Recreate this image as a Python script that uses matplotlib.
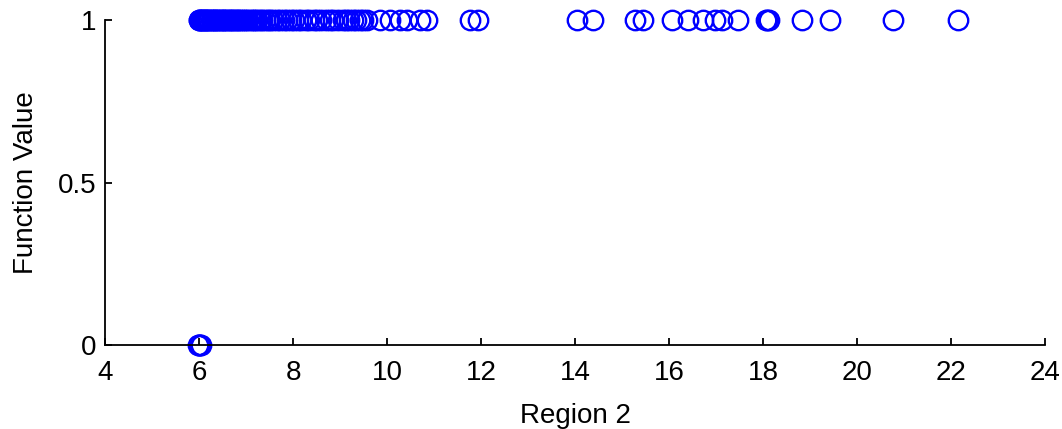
import numpy as np
import matplotlib.pyplot as plt

plt.rcParams['font.family'] = ['Liberation Sans', 'DejaVu Sans']

# points with function value 1
x_one = [6.0, 6.01, 6.03, 6.05, 6.07, 6.09, 6.11, 6.13, 6.15, 6.18, 6.2, 6.22,
         6.25, 6.27, 6.3, 6.33, 6.35, 6.38, 6.41, 6.44, 6.47, 6.5, 6.53, 6.56,
         6.6, 6.63, 6.66, 6.7, 6.73, 6.77, 6.8, 6.84, 6.88, 6.92, 6.96, 7.0,
         7.05, 7.1, 7.14, 7.19, 7.24, 7.3, 7.35, 7.41, 7.47, 7.52, 7.58, 7.65,
         7.72, 7.8, 7.87, 7.95, 8.02, 8.1, 8.18, 8.27, 8.35, 8.45, 8.52, 8.6,
         8.7, 8.78, 8.85, 8.95, 9.06, 9.13, 9.2, 9.28, 9.35, 9.43, 9.5, 9.58,
         9.85, 10.06, 10.28, 10.43, 10.7, 10.85, 11.77, 11.94,
         14.04, 14.38, 15.28, 15.45, 16.06, 16.4, 16.72, 16.98, 17.13, 17.47,
         18.06, 18.09, 18.12, 18.83, 19.43, 20.77, 22.15]
y_one = [1] * len(x_one)

# points with function value 0
x_zero = [5.97, 5.99, 6.0, 6.02, 6.04]
y_zero = [0] * len(x_zero)

fig = plt.figure(figsize=(10.62, 4.29), dpi=100)
ax = fig.add_axes([0.0989, 0.196, 0.885, 0.757])

ax.plot(x_one, y_one, 'o', mfc='none', mec='#0000ff', ms=14, mew=1.7, clip_on=False)
ax.plot(x_zero, y_zero, 'o', mfc='none', mec='#0000ff', ms=14, mew=1.7, clip_on=False)

ax.set_xlim(4, 24)
ax.set_ylim(0, 1)
ax.set_xticks(np.arange(4, 25, 2))
ax.set_yticks([0, 0.5, 1])
ax.set_yticklabels(['0', '0.5', '1'])
ax.spines['top'].set_visible(False)
ax.spines['right'].set_visible(False)
for s in ['left', 'bottom']:
    ax.spines[s].set_linewidth(1.3)
ax.tick_params(direction='in', length=5, width=1.3, labelsize=20)
ax.tick_params(axis='x', pad=11)
ax.tick_params(axis='y', pad=6)
ax.set_xlabel('Region 2', fontsize=20, labelpad=12)
ax.set_ylabel('Function Value', fontsize=20, labelpad=14)

fig.savefig('out.png', dpi=100)
